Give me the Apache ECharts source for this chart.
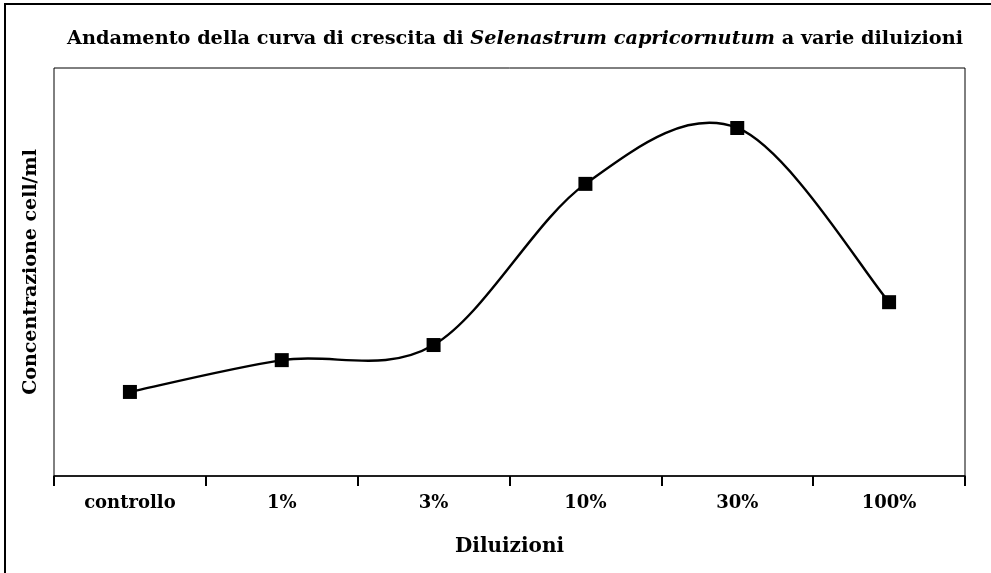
<!DOCTYPE html>
<html><head><meta charset="utf-8">
<script src="https://cdn.jsdelivr.net/npm/echarts@6/dist/echarts.min.js"></script>
<style>html,body{margin:0;padding:0;background:#fff}#c{width:991px;height:573px}</style>
</head><body><div id="c"></div>
<script>
var categories = ['controllo', '1%', '3%', '10%', '30%', '100%'];
var concentration = [20.6, 28.4, 32.1, 71.6, 85.3, 42.6];

var FONT = '"DejaVu Serif", "Liberation Serif", serif';

// Excel-like smoothed segment between point i and i+1 (Catmull-Rom, tension 1/6)
function renderSegment(params, api) {
  var i = params.dataIndex;
  var n = concentration.length;
  if (i >= n - 1) return null;
  function pt(k) {
    k = Math.max(0, Math.min(n - 1, k));
    return api.coord([k, concentration[k]]);
  }
  var p0 = pt(i - 1), p1 = pt(i), p2 = pt(i + 1), p3 = pt(i + 2);
  return {
    type: 'bezierCurve',
    shape: {
      x1: p1[0], y1: p1[1], x2: p2[0], y2: p2[1],
      cpx1: p1[0] + (p2[0] - p0[0]) / 6, cpy1: p1[1] + (p2[1] - p0[1]) / 6,
      cpx2: p2[0] - (p3[0] - p1[0]) / 6, cpy2: p2[1] - (p3[1] - p1[1]) / 6
    },
    style: {fill: null, stroke: '#000', lineWidth: 2.4}
  };
}

var chart = echarts.init(document.getElementById('c'));
chart.setOption({
  animation: false,
  backgroundColor: '#fff',
  title: {
    text: '{b|Andamento della curva di crescita di }{i|Selenastrum capricornutum}{b| a varie diluizioni}',
    left: 510, top: 24, textAlign: 'center',
    textStyle: {
      rich: {
        b: {fontFamily: FONT, fontWeight: 'bold', fontSize: 19.3, color: '#000'},
        i: {fontFamily: FONT, fontWeight: 'bold', fontStyle: 'italic', fontSize: 19.3, color: '#000'}
      }
    }
  },
  graphic: [{
    type: 'rect', shape: {x: 5, y: 4, width: 1100, height: 700},
    style: {fill: 'none', stroke: '#000', lineWidth: 2}, silent: true
  }],
  grid: {left: 54, right: 26, top: 68, bottom: 97, show: true, borderColor: '#000', borderWidth: 1, backgroundColor: '#fff'},
  xAxis: {
    type: 'category', data: categories, boundaryGap: true,
    name: 'Diluizioni', nameLocation: 'middle', nameGap: 61,
    nameTextStyle: {fontFamily: FONT, fontWeight: 'bold', fontSize: 20, color: '#000'},
    axisLine: {lineStyle: {color: '#000', width: 1.5}},
    axisTick: {show: true, length: 10, lineStyle: {color: '#000', width: 2}},
    axisLabel: {fontFamily: FONT, fontWeight: 'bold', fontSize: 18, color: '#000', margin: 18}
  },
  yAxis: {
    type: 'value', min: 0, max: 100,
    name: 'Concentrazione cell/ml', nameLocation: 'middle', nameGap: 13, nameRotate: 90,
    nameTextStyle: {fontFamily: FONT, fontWeight: 'bold', fontSize: 19, color: '#000'},
    axisLine: {show: false}, axisTick: {show: false}, axisLabel: {show: false}, splitLine: {show: false}
  },
  series: [{
    type: 'custom', renderItem: renderSegment, data: concentration, z: 2
  }, {
    type: 'scatter', data: concentration, z: 3,
    symbol: 'rect', symbolSize: 14,
    itemStyle: {color: '#000', opacity: 1}
  }]
});
</script></body></html>
